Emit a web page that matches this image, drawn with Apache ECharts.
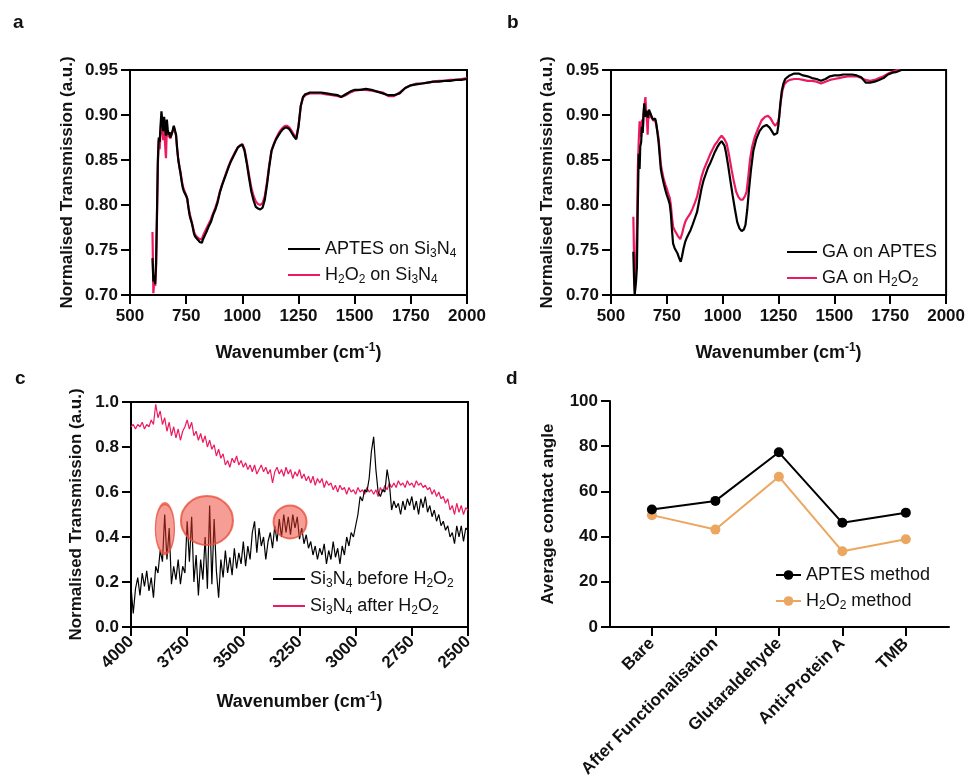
<!DOCTYPE html>
<html>
<head>
<meta charset="utf-8">
<script src="https://cdn.jsdelivr.net/npm/echarts@6/dist/echarts.min.js"></script>
<style>
html,body{margin:0;padding:0;background:#fff;}
#chart{width:968px;height:781px;}
</style>
</head>
<body>
<div id="chart"></div>
<script>
// ---------- Panel a: [wavenumber, transmission] ----------
const aptesA = [[600,0.741],[604,0.715],[608,0.722],[612,0.712],[616,0.735],[620,0.790],[624,0.850],[628,0.875],[632,0.870],[636,0.888],[640,0.904],[644,0.893],[648,0.882],[652,0.898],[656,0.886],[660,0.877],[664,0.895],[668,0.884],[672,0.878],[676,0.881],[680,0.875],[685,0.874],[690,0.883],[695,0.888],[700,0.886],[705,0.878],[710,0.862],[715,0.850],[720,0.842],[725,0.835],[730,0.826],[735,0.819],[740,0.815],[745,0.813],[750,0.810],[755,0.807],[760,0.797],[765,0.789],[770,0.784],[775,0.780],[780,0.774],[785,0.768],[790,0.765],[795,0.763],[800,0.762],[805,0.760],[810,0.759],[815,0.761],[820,0.758],[825,0.762],[830,0.764],[840,0.770],[850,0.776],[860,0.781],[870,0.789],[880,0.795],[890,0.803],[900,0.814],[910,0.822],[920,0.829],[930,0.836],[940,0.843],[950,0.849],[960,0.854],[970,0.859],[980,0.864],[990,0.866],[1000,0.867],[1010,0.860],[1020,0.846],[1030,0.830],[1040,0.815],[1050,0.805],[1060,0.798],[1070,0.796],[1080,0.795],[1090,0.797],[1100,0.806],[1110,0.823],[1120,0.843],[1130,0.860],[1140,0.867],[1150,0.873],[1160,0.877],[1170,0.881],[1180,0.884],[1190,0.886],[1200,0.886],[1210,0.884],[1220,0.880],[1230,0.876],[1240,0.873],[1250,0.887],[1260,0.910],[1270,0.920],[1280,0.923],[1290,0.924],[1300,0.925],[1325,0.925],[1350,0.925],[1375,0.924],[1400,0.923],[1425,0.922],[1440,0.920],[1460,0.923],[1480,0.926],[1500,0.928],[1525,0.928],[1550,0.929],[1575,0.928],[1600,0.926],[1625,0.924],[1650,0.922],[1675,0.922],[1700,0.924],[1725,0.930],[1750,0.933],[1775,0.934],[1800,0.935],[1825,0.936],[1850,0.937],[1875,0.937],[1900,0.938],[1925,0.938],[1950,0.939],[1975,0.939],[2000,0.940]];
const h2o2A = [[600,0.770],[602,0.740],[604,0.702],[608,0.715],[612,0.710],[616,0.730],[620,0.785],[624,0.845],[628,0.872],[632,0.862],[636,0.880],[640,0.898],[644,0.885],[648,0.872],[652,0.888],[656,0.868],[660,0.852],[664,0.885],[668,0.878],[672,0.876],[676,0.880],[680,0.874],[685,0.872],[690,0.882],[695,0.887],[700,0.885],[705,0.877],[710,0.862],[715,0.850],[720,0.843],[725,0.836],[730,0.828],[735,0.821],[740,0.817],[745,0.815],[750,0.811],[755,0.806],[760,0.798],[765,0.791],[770,0.786],[775,0.781],[780,0.776],[785,0.770],[790,0.767],[795,0.765],[800,0.764],[805,0.763],[810,0.762],[815,0.764],[820,0.762],[825,0.766],[830,0.768],[840,0.774],[850,0.779],[860,0.784],[870,0.791],[880,0.797],[890,0.805],[900,0.815],[910,0.823],[920,0.830],[930,0.837],[940,0.844],[950,0.850],[960,0.855],[970,0.860],[980,0.864],[990,0.866],[1000,0.868],[1010,0.862],[1020,0.848],[1030,0.833],[1040,0.819],[1050,0.810],[1060,0.804],[1070,0.801],[1080,0.800],[1090,0.802],[1100,0.810],[1110,0.826],[1120,0.845],[1130,0.861],[1140,0.868],[1150,0.874],[1160,0.879],[1170,0.883],[1180,0.886],[1190,0.888],[1200,0.888],[1210,0.886],[1220,0.882],[1230,0.878],[1240,0.875],[1250,0.888],[1260,0.910],[1270,0.919],[1280,0.922],[1290,0.923],[1300,0.924],[1325,0.924],[1350,0.924],[1375,0.923],[1400,0.922],[1425,0.921],[1440,0.920],[1460,0.922],[1480,0.925],[1500,0.927],[1525,0.928],[1550,0.928],[1575,0.927],[1600,0.926],[1625,0.925],[1650,0.921],[1675,0.921],[1700,0.925],[1725,0.930],[1750,0.933],[1775,0.935],[1800,0.935],[1825,0.936],[1850,0.937],[1875,0.938],[1900,0.938],[1925,0.939],[1950,0.939],[1975,0.940],[2000,0.941]];

// ---------- Panel b ----------
const gaAptesB = [[600,0.748],[603,0.720],[606,0.700],[609,0.702],[612,0.715],[616,0.731],[620,0.800],[624,0.857],[628,0.840],[631,0.865],[635,0.870],[638,0.887],[642,0.880],[645,0.900],[649,0.913],[653,0.898],[657,0.905],[661,0.902],[665,0.897],[670,0.906],[676,0.904],[682,0.898],[688,0.895],[693,0.897],[698,0.896],[703,0.890],[708,0.880],[713,0.870],[718,0.855],[723,0.840],[728,0.833],[735,0.825],[743,0.817],[750,0.811],[757,0.806],[763,0.801],[768,0.790],[773,0.772],[778,0.757],[785,0.752],[790,0.750],[798,0.746],[805,0.741],[812,0.737],[818,0.743],[825,0.752],[832,0.759],[840,0.764],[848,0.768],[856,0.772],[865,0.778],[875,0.785],[885,0.792],[895,0.805],[905,0.818],[915,0.828],[925,0.835],[935,0.842],[945,0.847],[955,0.853],[965,0.859],[975,0.864],[985,0.868],[995,0.871],[1000,0.872],[1008,0.866],[1015,0.858],[1025,0.843],[1035,0.826],[1045,0.810],[1055,0.795],[1065,0.781],[1075,0.774],[1085,0.771],[1095,0.773],[1102,0.778],[1110,0.795],[1118,0.818],[1127,0.840],[1137,0.860],[1150,0.873],[1165,0.882],[1180,0.887],[1196,0.889],[1210,0.886],[1220,0.882],[1230,0.878],[1237,0.876],[1244,0.880],[1250,0.890],[1257,0.910],[1264,0.926],[1272,0.935],[1280,0.940],[1290,0.942],[1300,0.944],[1320,0.946],[1340,0.946],[1360,0.944],[1380,0.943],[1400,0.941],[1420,0.940],[1440,0.938],[1460,0.940],[1480,0.943],[1500,0.944],[1520,0.944],[1540,0.945],[1560,0.945],[1580,0.945],[1600,0.944],[1620,0.942],[1640,0.936],[1660,0.936],[1680,0.937],[1700,0.939],[1720,0.941],[1740,0.945],[1760,0.947],[1780,0.948],[1800,0.950],[1820,0.951],[1840,0.951],[1860,0.952]];
const gaH2o2B = [[600,0.787],[602,0.760],[604,0.725],[607,0.705],[610,0.720],[613,0.745],[616,0.770],[620,0.840],[624,0.870],[628,0.893],[632,0.880],[635,0.876],[639,0.895],[643,0.885],[647,0.905],[651,0.913],[654,0.920],[658,0.902],[662,0.890],[664,0.878],[667,0.900],[671,0.896],[676,0.902],[682,0.898],[688,0.894],[693,0.895],[698,0.894],[703,0.888],[708,0.882],[713,0.874],[718,0.860],[723,0.845],[728,0.838],[735,0.830],[743,0.823],[750,0.818],[757,0.812],[763,0.808],[768,0.800],[773,0.786],[778,0.776],[785,0.772],[790,0.770],[798,0.766],[805,0.764],[810,0.762],[818,0.768],[825,0.775],[832,0.781],[840,0.785],[848,0.788],[856,0.791],[865,0.796],[875,0.802],[885,0.809],[895,0.820],[905,0.831],[915,0.839],[925,0.845],[935,0.851],[945,0.857],[955,0.862],[965,0.867],[975,0.870],[985,0.874],[995,0.877],[1000,0.878],[1008,0.873],[1018,0.868],[1028,0.856],[1040,0.839],[1050,0.826],[1060,0.815],[1070,0.809],[1080,0.806],[1090,0.806],[1100,0.810],[1107,0.815],[1114,0.830],[1122,0.850],[1132,0.865],[1144,0.876],[1160,0.886],[1174,0.894],[1190,0.898],[1204,0.899],[1215,0.896],[1226,0.891],[1235,0.888],[1241,0.887],[1247,0.892],[1253,0.898],[1260,0.915],[1268,0.928],[1276,0.934],[1286,0.937],[1300,0.939],[1320,0.940],[1340,0.940],[1360,0.939],[1380,0.938],[1400,0.938],[1420,0.937],[1440,0.935],[1460,0.937],[1480,0.939],[1500,0.940],[1520,0.941],[1540,0.942],[1560,0.943],[1580,0.943],[1600,0.943],[1620,0.941],[1640,0.939],[1660,0.938],[1680,0.939],[1700,0.941],[1720,0.943],[1740,0.946],[1760,0.948],[1780,0.950],[1800,0.951],[1820,0.952],[1840,0.952],[1860,0.953]];

// ---------- Panel c ----------
const beforeC = [[4000,0.18],[3990,0.06],[3980,0.17],[3970,0.22],[3960,0.14],[3950,0.24],[3940,0.18],[3930,0.25],[3920,0.16],[3910,0.22],[3900,0.13],[3890,0.27],[3880,0.24],[3870,0.34],[3860,0.29],[3850,0.50],[3840,0.30],[3830,0.44],[3820,0.19],[3810,0.27],[3800,0.21],[3790,0.30],[3780,0.19],[3770,0.27],[3760,0.24],[3750,0.47],[3740,0.29],[3730,0.49],[3720,0.20],[3710,0.32],[3700,0.14],[3690,0.30],[3680,0.21],[3670,0.40],[3660,0.17],[3650,0.54],[3640,0.19],[3630,0.48],[3620,0.25],[3610,0.13],[3600,0.30],[3590,0.22],[3580,0.34],[3570,0.24],[3560,0.31],[3550,0.23],[3540,0.35],[3530,0.26],[3520,0.33],[3510,0.28],[3500,0.38],[3490,0.27],[3480,0.36],[3470,0.30],[3460,0.42],[3450,0.47],[3440,0.33],[3430,0.44],[3420,0.36],[3410,0.40],[3400,0.30],[3390,0.38],[3380,0.42],[3370,0.35],[3360,0.45],[3350,0.38],[3340,0.48],[3330,0.40],[3320,0.50],[3310,0.42],[3300,0.49],[3290,0.41],[3280,0.50],[3270,0.44],[3260,0.49],[3250,0.39],[3240,0.44],[3230,0.37],[3220,0.41],[3210,0.35],[3200,0.38],[3190,0.32],[3180,0.36],[3170,0.30],[3160,0.35],[3150,0.32],[3140,0.37],[3130,0.28],[3120,0.34],[3110,0.30],[3100,0.38],[3090,0.31],[3080,0.35],[3070,0.28],[3060,0.36],[3050,0.32],[3040,0.40],[3030,0.36],[3020,0.42],[3010,0.40],[3000,0.45],[2990,0.50],[2980,0.58],[2970,0.56],[2960,0.61],[2950,0.60],[2940,0.66],[2930,0.78],[2920,0.845],[2910,0.70],[2900,0.60],[2890,0.58],[2880,0.61],[2870,0.60],[2860,0.70],[2850,0.64],[2840,0.52],[2830,0.56],[2820,0.53],[2810,0.55],[2800,0.50],[2790,0.56],[2780,0.52],[2770,0.57],[2760,0.54],[2750,0.58],[2740,0.52],[2730,0.56],[2720,0.50],[2710,0.57],[2700,0.53],[2690,0.58],[2680,0.51],[2670,0.54],[2660,0.49],[2650,0.52],[2640,0.47],[2630,0.50],[2620,0.45],[2610,0.47],[2600,0.43],[2590,0.45],[2580,0.40],[2570,0.42],[2560,0.37],[2550,0.45],[2540,0.40],[2530,0.45],[2520,0.38],[2510,0.44],[2500,0.43]];
const afterC = [[4000,0.89],[3990,0.90],[3980,0.88],[3970,0.90],[3960,0.89],[3950,0.91],[3940,0.88],[3930,0.90],[3920,0.89],[3910,0.92],[3900,0.90],[3890,0.99],[3880,0.93],[3870,0.96],[3860,0.90],[3850,0.93],[3840,0.87],[3830,0.91],[3820,0.85],[3810,0.89],[3800,0.84],[3790,0.88],[3780,0.83],[3770,0.87],[3760,0.89],[3750,0.92],[3740,0.88],[3730,0.91],[3720,0.85],[3710,0.87],[3700,0.83],[3690,0.86],[3680,0.82],[3670,0.85],[3660,0.80],[3650,0.83],[3640,0.79],[3630,0.81],[3620,0.76],[3610,0.79],[3600,0.75],[3590,0.77],[3580,0.72],[3570,0.74],[3560,0.71],[3550,0.75],[3540,0.73],[3530,0.76],[3520,0.72],[3510,0.74],[3500,0.71],[3490,0.73],[3480,0.70],[3470,0.72],[3460,0.69],[3450,0.72],[3440,0.68],[3430,0.70],[3420,0.72],[3410,0.69],[3400,0.71],[3390,0.68],[3380,0.70],[3370,0.64],[3360,0.69],[3350,0.71],[3340,0.68],[3330,0.70],[3320,0.67],[3310,0.71],[3300,0.68],[3290,0.70],[3280,0.66],[3270,0.69],[3260,0.67],[3250,0.70],[3240,0.66],[3230,0.68],[3220,0.65],[3210,0.67],[3200,0.64],[3190,0.67],[3180,0.63],[3170,0.66],[3160,0.64],[3150,0.66],[3140,0.62],[3130,0.65],[3120,0.63],[3110,0.64],[3100,0.61],[3090,0.63],[3080,0.60],[3070,0.63],[3060,0.61],[3050,0.62],[3040,0.59],[3030,0.62],[3020,0.60],[3010,0.61],[3000,0.59],[2990,0.62],[2980,0.60],[2970,0.61],[2960,0.59],[2950,0.62],[2940,0.60],[2930,0.61],[2920,0.59],[2910,0.61],[2900,0.58],[2890,0.62],[2880,0.60],[2870,0.63],[2860,0.61],[2850,0.64],[2840,0.62],[2830,0.64],[2820,0.62],[2810,0.65],[2800,0.63],[2790,0.64],[2780,0.62],[2770,0.65],[2760,0.63],[2750,0.64],[2740,0.62],[2730,0.65],[2720,0.63],[2710,0.64],[2700,0.62],[2690,0.63],[2680,0.61],[2670,0.62],[2660,0.59],[2650,0.61],[2640,0.58],[2630,0.60],[2620,0.57],[2610,0.58],[2600,0.55],[2590,0.57],[2580,0.52],[2570,0.54],[2560,0.50],[2550,0.55],[2540,0.51],[2530,0.54],[2520,0.50],[2510,0.53],[2500,0.52]];
// highlighted regions (centres) in panel c
const highlightC = [[3849,0.437],[3662,0.473],[3292,0.467]];

// ---------- Panel d ----------
const stages = ['Bare','After Functionalisation','Glutaraldehyde','Anti-Protein A','TMB'];
const aptesMethod = [52.0, 55.8, 77.3, 46.1, 50.6];
const h2o2Method = [49.5, 43.1, 66.5, 33.5, 38.8];

// ---------- styles ----------
const FONT = 'Liberation Sans, Arial, Helvetica, sans-serif';
const PINK = '#EC1B5E';
const ORANGE = '#EBA760';
const circleSizes = [[19, 50], [52, 49], [33, 33]];

const chart = echarts.init(document.getElementById('chart'), null, {renderer: 'canvas'});

function subRich(name) {
  return name.replace(/([A-Za-z])(\d)/g, '$1{s|$2}');
}
const legendRich = {
  s: {fontSize: 12, verticalAlign: 'bottom', lineHeight: 14, fontFamily: FONT, color: '#111'}
};
const nameRich = {
  sup: {fontSize: 12, verticalAlign: 'top', lineHeight: 14, fontFamily: FONT, fontWeight: 'bold', color: '#111'}
};

function valueX(gi, min, max, interval, opts) {
  return Object.assign({
    type: 'value', gridIndex: gi, min: min, max: max, interval: interval,
    name: 'Wavenumber (cm{sup|-1})', nameLocation: 'middle', nameGap: 47,
    nameTextStyle: {fontFamily: FONT, fontWeight: 'bold', fontSize: 18, color: '#111', lineHeight: 22, rich: nameRich},
    axisLine: {show: true, onZero: false, lineStyle: {color: '#000', width: 2}},
    axisTick: {show: true, length: 9, lineStyle: {color: '#000', width: 2}},
    axisLabel: {fontFamily: FONT, fontWeight: 'bold', fontSize: 17, color: '#111', margin: 13, formatter: v => String(v)},
    splitLine: {show: false}
  }, opts || {});
}
function valueY(gi, min, max, interval, name, gap, digits) {
  return {
    type: 'value', gridIndex: gi, min: min, max: max, interval: interval,
    name: name, nameLocation: 'middle', nameGap: gap,
    nameTextStyle: {fontFamily: FONT, fontWeight: 'bold', fontSize: 17, color: '#111'},
    axisLine: {show: true, onZero: false, lineStyle: {color: '#000', width: 2}},
    axisTick: {show: true, length: 9, lineStyle: {color: '#000', width: 2}},
    axisLabel: {fontFamily: FONT, fontWeight: 'bold', fontSize: 17, color: '#111', margin: 12,
      formatter: v => digits === null ? String(v) : v.toFixed(digits)},
    splitLine: {show: false}
  };
}
function legendAt(left, top, names, itemWidth, gap, plainLine) {
  const lg = {
    orient: 'vertical', left: left, top: top, padding: 0,
    data: names.map(n => plainLine ? {name: n, icon: 'rect'} : {name: n}),
    itemWidth: itemWidth, itemHeight: plainLine ? 2 : 12, itemGap: gap,
    formatter: n => subRich(n),
    textStyle: {fontFamily: FONT, fontSize: 18, color: '#111', lineHeight: 22, rich: legendRich},
    selectedMode: false
  };
  return lg;
}
function specLine(name, data, color, xi, width, z) {
  return {
    name: name, type: 'line', xAxisIndex: xi, yAxisIndex: xi, data: data,
    symbol: 'none', showSymbol: false, color: color, z: z,
    lineStyle: {color: color, width: width}, animation: false, clip: true
  };
}
const letter = (t, l, tp) => ({text: t, left: l, top: tp,
  textStyle: {fontFamily: FONT, fontWeight: 'bold', fontSize: 19, color: '#111'}});

const option = {
  backgroundColor: '#fff',
  animation: false,
  title: [letter('a', 8, 8), letter('b', 502, 8), letter('c', 10, 364), letter('d', 501, 364)],
  grid: [
    {left: 130, top: 70, width: 337, height: 225, show: true, borderColor: '#000', borderWidth: 2, backgroundColor: 'transparent'},
    {left: 611, top: 70, width: 336, height: 225, show: true, borderColor: '#000', borderWidth: 2, backgroundColor: 'transparent'},
    {left: 131, top: 402, width: 337, height: 225, show: true, borderColor: '#000', borderWidth: 2, backgroundColor: 'transparent'},
    {left: 610, top: 401, width: 339, height: 226}
  ],
  xAxis: [
    valueX(0, 500, 2000, 250),
    valueX(1, 500, 2000, 250),
    valueX(2, 2500, 4000, 250, {inverse: true, nameGap: 64,
      axisLabel: {fontFamily: FONT, fontWeight: 'bold', fontSize: 17, color: '#111', margin: 12, rotate: 45, formatter: v => String(v)}}),
    {
      type: 'value', gridIndex: 3, min: -0.66, max: 4.68,
      axisLine: {show: true, onZero: false, lineStyle: {color: '#000', width: 2}},
      axisTick: {show: true, length: 9, customValues: [0, 1, 2, 3, 4], lineStyle: {color: '#000', width: 2}},
      axisLabel: {show: true, customValues: [0, 1, 2, 3, 4], rotate: 45, margin: 14,
        fontFamily: FONT, fontWeight: 'bold', fontSize: 17, color: '#111',
        formatter: v => stages[Math.round(v)]},
      splitLine: {show: false}
    }
  ],
  yAxis: [
    valueY(0, 0.70, 0.95, 0.05, 'Normalised Transmission (a.u.)', 54, 2),
    valueY(1, 0.70, 0.95, 0.05, 'Normalised Transmission (a.u.)', 55, 2),
    valueY(2, 0, 1, 0.2, 'Normalised Transmission (a.u.)', 46, 1),
    valueY(3, 0, 100, 20, 'Average contact angle', 53, null)
  ],
  legend: [
    legendAt(288, 238, ['APTES on Si3N4', 'H2O2 on Si3N4'], 32, 4, true),
    legendAt(787, 241, ['GA on APTES', 'GA on H2O2'], 30, 4, true),
    legendAt(273, 568, ['Si3N4 before H2O2', 'Si3N4 after H2O2'], 32, 5, true),
    legendAt(775, 564, ['APTES method', 'H2O2 method'], 25, 4, false)
  ],
  series: [
    specLine('H2O2 on Si3N4', h2o2A, PINK, 0, 2.2, 2),
    specLine('APTES on Si3N4', aptesA, '#000', 0, 2.2, 3),
    specLine('GA on H2O2', gaH2o2B, PINK, 1, 2.2, 2),
    specLine('GA on APTES', gaAptesB, '#000', 1, 2.2, 3),
    specLine('Si3N4 after H2O2', afterC, PINK, 2, 1.2, 2),
    specLine('Si3N4 before H2O2', beforeC, '#000', 2, 1.2, 3),
    {
      name: 'highlight', type: 'scatter', xAxisIndex: 2, yAxisIndex: 2, z: 5,
      data: highlightC, symbol: 'circle',
      symbolSize: (val, p) => circleSizes[p.dataIndex],
      itemStyle: {color: 'rgba(236,58,42,0.62)', borderColor: '#E9503F', borderWidth: 2},
      silent: true
    },
    {
      name: 'APTES method', type: 'line', xAxisIndex: 3, yAxisIndex: 3, z: 4,
      data: aptesMethod.map((v, i) => [i, v]),
      symbol: 'circle', symbolSize: 10, color: '#000',
      lineStyle: {color: '#000', width: 2}, itemStyle: {color: '#000'}
    },
    {
      name: 'H2O2 method', type: 'line', xAxisIndex: 3, yAxisIndex: 3, z: 3,
      data: h2o2Method.map((v, i) => [i, v]),
      symbol: 'circle', symbolSize: 10, color: ORANGE,
      lineStyle: {color: ORANGE, width: 2}, itemStyle: {color: ORANGE}
    }
  ]
};
chart.setOption(option);
</script>
</body>
</html>
